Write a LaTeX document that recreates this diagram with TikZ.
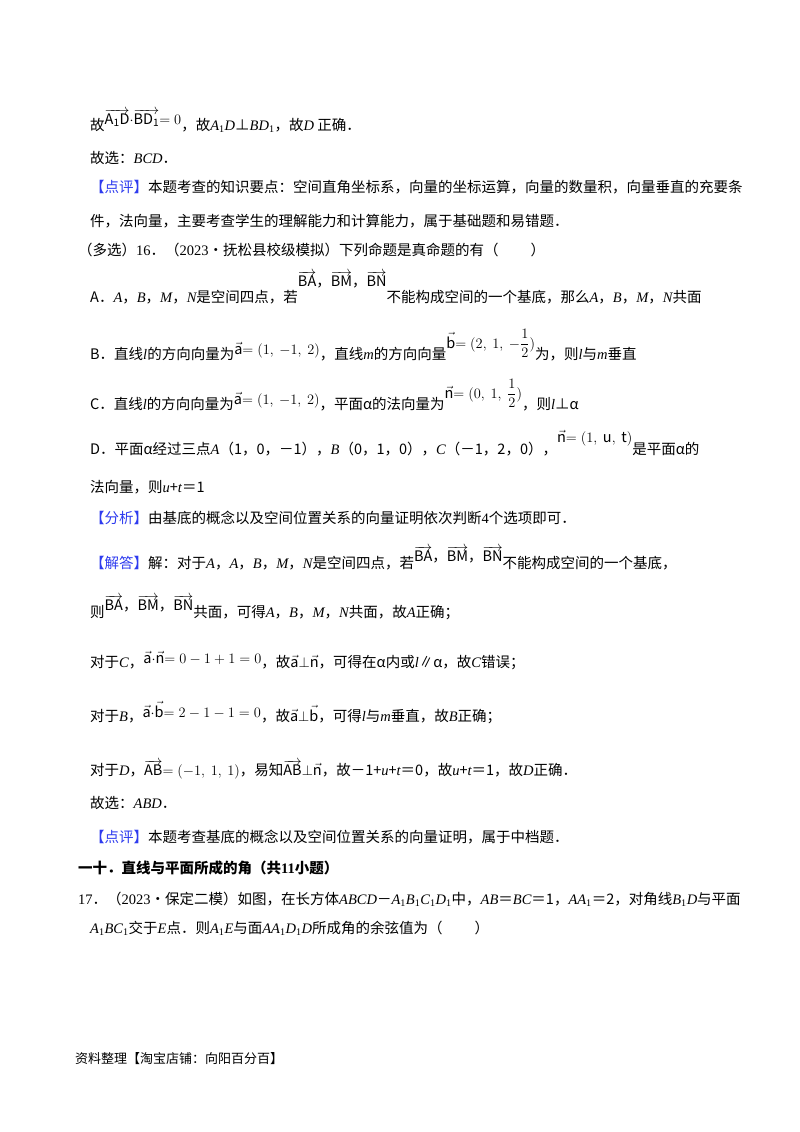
\documentclass[tikz,border=0pt]{standalone}
\usepackage{fontspec}
\setmainfont{Noto Sans CJK SC}
\newfontfamily\lser{Liberation Serif}
\newcommand{\iv}[1]{{\lser\itshape #1}}
\newcommand{\rr}[1]{{\lser #1}}
\newcommand{\ov}[1]{$\overrightarrow{\mathrm{#1}}$}
\newcommand{\vv}[1]{$\vec{\mathrm{#1}}$}
\definecolor{tagblue}{HTML}{2E3BEF}
\begin{document}
\begin{tikzpicture}[x=1pt,y=-1pt,
  ln/.style={anchor=base west,inner sep=0pt,font=\fontsize{14.5}{16}\selectfont},
  tag/.style={text=tagblue}]
\useasboundingbox[fill=white] (0,0) rectangle (800,1132);
\node[ln] (l1) at (90,130) {故\raisebox{6pt}{\ov{A_1D}$\cdot$\ov{BD_1}$=0$}，故\iv{A}\textsubscript{\rr{1}}\iv{D}⊥\iv{BD}\textsubscript{\rr{1}}，故\iv{D} 正确．};
\node[ln] (l2) at (90,163) {故选：\iv{BCD}．};
\node[ln] (l3) at (90,192) {\textcolor{tagblue}{【点评】}本题考查的知识要点：空间直角坐标系，向量的坐标运算，向量的数量积，向量垂直的充要条};
\node[ln] (l4) at (90,226) {件，法向量，主要考查学生的理解能力和计算能力，属于基础题和易错题．};
\node[ln] (l5) at (78,255) {（多选）\rr{16}．（\rr{2023}•抚松县校级模拟）下列命题是真命题的有（\hspace{2.2em}）};
\node[ln] (l6) at (90,302) {A．\iv{A}，\iv{B}，\iv{M}，\iv{N}是空间四点，若\raisebox{16pt}{\ov{BA}，\ov{BM}，\ov{BN}}不能构成空间的一个基底，那么\iv{A}，\iv{B}，\iv{M}，\iv{N}共面};
\node[ln] (l7) at (90,359) {B．直线\iv{l}的方向向量为\raisebox{5pt}{\vv{a}$=(1,\ -1,\ 2)$}，直线\iv{m}的方向向量\raisebox{11pt}{\vv{b}$=(2,\ 1,\ -\displaystyle\frac{1}{2})$}为，则\iv{l}与\iv{m}垂直};
\node[ln] (l8) at (90,409) {C．直线\iv{l}的方向向量为\raisebox{5pt}{\vv{a}$=(1,\ -1,\ 2)$}，平面α的法向量为\raisebox{11pt}{\vv{n}$=(0,\ 1,\ \displaystyle\frac{1}{2})$}，则\iv{l}⊥α};
\node[ln] (l9) at (90,454) {D．平面α经过三点\iv{A}（1，0，－1），\iv{B}（0，1，0），\iv{C}（－1，2，0），\raisebox{12pt}{\vv{n}$=(1,\ \mathrm{u},\ \mathrm{t})$}是平面α的};
\node[ln] (l10) at (90,492) {法向量，则\iv{u}+\iv{t}＝1};
\node[ln] (l11) at (90,523) {\textcolor{tagblue}{【分析】}由基底的概念以及空间位置关系的向量证明依次判断\rr{4}个选项即可．};
\node[ln] (l12) at (90,568) {\textcolor{tagblue}{【解答】}解：对于\iv{A}，\iv{A}，\iv{B}，\iv{M}，\iv{N}是空间四点，若\raisebox{7pt}{\ov{BA}，\ov{BM}，\ov{BN}}不能构成空间的一个基底，};
\node[ln] (l13) at (90,617) {则\raisebox{7pt}{\ov{BA}，\ov{BM}，\ov{BN}}共面，可得\iv{A}，\iv{B}，\iv{M}，\iv{N}共面，故\iv{A}正确；};
\node[ln] (l14) at (90,667) {对于\iv{C}，\raisebox{4pt}{\vv{a}$\cdot$\vv{n}$=0-1+1=0$}，故\vv{a}$\perp$\vv{n}，可得在α内或\iv{l}∥α，故\iv{C}错误；};
\node[ln] (l15) at (90,721) {对于\iv{B}，\raisebox{4pt}{\vv{a}$\cdot$\vv{b}$=2-1-1=0$}，故\vv{a}$\perp$\vv{b}，可得\iv{l}与\iv{m}垂直，故\iv{B}正确；};
\node[ln] (l16) at (90,775) {对于\iv{D}，\ov{AB}$=(-1,\ 1,\ 1)$，易知\ov{AB}$\perp$\vv{n}，故－1+\iv{u}+\iv{t}＝0，故\iv{u}+\iv{t}＝1，故\iv{D}正确．};
\node[ln] (l17) at (90,808) {故选：\iv{ABD}．};
\node[ln] (l18) at (90,842) {\textcolor{tagblue}{【点评】}本题考查基底的概念以及空间位置关系的向量证明，属于中档题．};
\node[ln,font=\fontsize{14.5}{16}\selectfont\bfseries] (l19) at (78,873) {一十．直线与平面所成的角（共\rr{\bfseries 11}小题）};
\node[ln] (l20) at (78,904) {\rr{17}．（\rr{2023}•保定二模）如图，在长方体\iv{ABCD}－\iv{A}\textsubscript{\rr1}\iv{B}\textsubscript{\rr1}\iv{C}\textsubscript{\rr1}\iv{D}\textsubscript{\rr1}中，\iv{AB}＝\iv{BC}＝1，\iv{AA}\textsubscript{\rr1}＝2，对角线\iv{B}\textsubscript{\rr1}\iv{D}与平面};
\node[ln] (l21) at (90,933) {\iv{A}\textsubscript{\rr1}\iv{BC}\textsubscript{\rr1}交于\iv{E}点．则\iv{A}\textsubscript{\rr1}\iv{E}与面\iv{AA}\textsubscript{\rr1}\iv{D}\textsubscript{\rr1}\iv{D}所成角的余弦值为（\hspace{2.2em}）};
\node[ln,font=\fontsize{13}{15}\selectfont] (l22) at (75,1063) {资料整理【淘宝店铺：向阳百分百】};
\end{tikzpicture}
\end{document}
